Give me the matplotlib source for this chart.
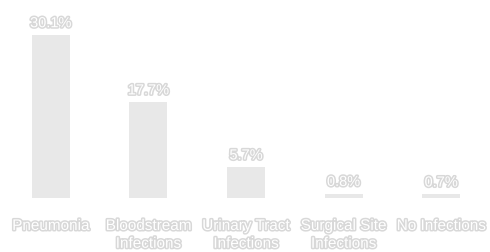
import matplotlib
matplotlib.use("Agg")
import matplotlib.pyplot as plt
import matplotlib.patheffects as pe
from matplotlib import font_manager

# data
categories = ["Pneumonia", "Bloodstream\nInfections", "Urinary Tract\nInfections",
              "Surgical Site\nInfections", "No Infections"]
values = [30.1, 17.7, 5.7, 0.8, 0.7]
value_labels = ["30.1%", "17.7%", "5.7%", "0.8%", "0.7%"]

names = {f.name for f in font_manager.fontManager.ttflist}
family = "Liberation Sans Narrow" if "Liberation Sans Narrow" in names else "Liberation Sans"

fig = plt.figure(figsize=(4.9, 2.53), dpi=100)
ax = fig.add_axes([0.004, 0.213, 0.996, 0.787])

x = range(len(categories))
ax.bar(x, values, width=0.39, color="#e8e8e8")
ax.set_xlim(-0.5, 4.5)
ax.set_ylim(0, 36.75)
ax.axis("off")

halo = [pe.withStroke(linewidth=2.2, foreground="#d8d8d8")]

for xi, v, lab in zip(x, values, value_labels):
    ax.annotate(lab, (xi, v), xytext=(0, 8.5), textcoords="offset points",
                ha="center", va="center", fontsize=10.5, family=family,
                color="white", path_effects=halo)

for xi, cat in zip(x, categories):
    ax.annotate(cat, (xi, 0), xytext=(0, -15), textcoords="offset points",
                ha="center", va="top", fontsize=11, family=family,
                color="white", path_effects=halo, linespacing=1.35)

fig.savefig("out.png", dpi=100, facecolor="white")
